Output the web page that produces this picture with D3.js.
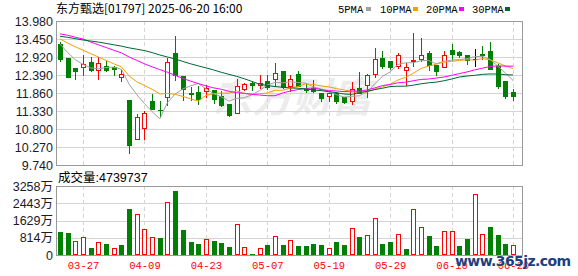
<!DOCTYPE html>
<html>
<head>
<meta charset="utf-8">
<title>东方甄选 K线</title>
<script src="https://d3js.org/d3.v7.min.js"></script>
<style>
  body { margin: 0; background: #fff; }
  svg { display: block; }
</style>
</head>
<body>
<script>
// ---- data ----
var dates = ["03-24","03-25","03-26","03-27","03-28","03-31","04-01","04-02","04-03","04-07",
             "04-08","04-09","04-10","04-11","04-14","04-15","04-16","04-17","04-22","04-23",
             "04-24","04-25","04-28","04-29","04-30","05-02","05-06","05-07","05-08","05-09",
             "05-12","05-13","05-14","05-15","05-16","05-19","05-20","05-21","05-22","05-23",
             "05-26","05-27","05-28","05-29","05-30","06-02","06-03","06-04","06-05","06-06",
             "06-09","06-10","06-11","06-12","06-13","06-16","06-17","06-18","06-19","06-20"];
var open  = [13.30,12.89,12.60,12.62,12.77,12.55,12.65,12.62,12.32,11.65,
             10.50,10.82,11.63,11.37,11.75,13.04,12.37,11.86,11.89,11.91,
             11.94,11.76,11.54,11.26,11.99,12.16,12.11,12.22,12.28,12.50,
             12.07,12.42,11.99,12.01,11.86,11.76,11.86,11.73,11.62,12.01,
             12.10,12.42,12.89,12.79,12.66,12.53,12.80,12.87,13.04,12.69,
             12.62,13.12,13.07,12.97,12.85,13.02,13.10,12.65,12.22,11.89];
var high  = [13.36,12.90,12.61,12.98,12.91,12.91,12.81,12.65,12.55,11.65,
             11.25,11.34,11.83,11.62,12.89,13.53,12.37,12.03,12.06,12.10,
             11.96,11.93,11.54,12.27,12.16,12.20,12.38,12.40,12.74,12.50,
             12.38,12.50,12.12,12.25,11.86,11.86,11.89,11.75,12.18,12.48,
             12.42,13.19,13.09,12.79,13.04,12.74,13.63,13.48,13.11,12.69,
             13.11,13.30,13.11,12.97,13.16,13.24,13.36,12.72,12.22,11.99];
var low   = [12.81,12.33,12.27,12.40,12.50,12.27,12.50,12.40,12.22,10.10,
             10.50,10.52,11.40,11.16,11.52,12.25,11.66,11.66,11.54,11.74,
             11.57,11.47,11.18,11.26,11.94,11.96,12.01,11.99,12.06,12.01,
             11.93,12.06,11.89,11.89,11.62,11.63,11.57,11.57,11.55,11.85,
             11.73,12.32,12.60,12.58,12.60,12.10,12.65,12.81,12.55,12.38,
             12.62,12.82,12.91,12.72,12.65,12.86,12.58,12.01,11.71,11.66];
var close = [12.87,12.34,12.52,12.71,12.53,12.74,12.55,12.57,12.42,10.34,
             11.15,11.26,11.40,11.35,12.76,12.40,11.99,11.84,11.69,12.01,
             11.67,11.52,11.22,12.07,12.12,12.11,12.14,12.05,12.45,12.03,
             12.28,12.06,11.94,11.91,11.71,11.86,11.63,11.59,11.99,11.85,
             12.38,12.86,12.66,12.63,12.99,12.62,12.83,12.97,12.68,12.52,
             12.97,13.02,12.99,12.84,12.85,12.99,12.58,12.06,11.76,11.78];
// volume in 万
var volume = [1086,1038,661,835,330,598,519,330,472,2171,
              1935,1211,835,802,2486,3020,1180,614,519,740,
              661,566,378,1447,362,47,315,472,881,472,
              692,425,425,519,472,315,614,472,1258,850,
              928,1730,519,614,975,283,2155,1305,897,425,
              1117,1117,425,755,2863,975,1322,944,519,474];
var ma5  = [13.30,13.05,12.84,12.70,12.60,12.57,12.61,12.62,12.56,12.12,
            11.81,11.55,11.31,11.10,11.58,11.83,11.98,12.07,12.14,11.99,
            11.84,11.75,11.62,11.70,11.72,11.81,11.93,12.10,12.17,12.16,
            12.19,12.17,12.15,12.04,11.98,11.90,11.81,11.74,11.76,11.78,
            11.89,12.13,12.35,12.48,12.70,12.75,12.75,12.81,12.82,12.72,
            12.79,12.83,12.84,12.87,12.93,12.94,12.85,12.66,12.45,12.23];
var ma10 = [13.45,13.33,13.22,13.12,13.02,12.92,12.82,12.72,12.63,12.36,
            12.19,12.08,11.97,11.83,11.85,11.82,11.76,11.69,11.62,11.79,
            11.84,11.86,11.85,11.92,11.85,11.82,11.84,11.86,11.94,11.94,
            12.00,12.05,12.13,12.11,12.07,12.04,11.99,11.95,11.90,11.88,
            11.89,11.97,12.04,12.12,12.24,12.32,12.44,12.58,12.65,12.71,
            12.77,12.79,12.82,12.84,12.83,12.87,12.84,12.75,12.66,12.58];
var ma20 = [13.60,13.56,13.50,13.45,13.36,13.28,13.20,13.12,13.04,12.92,
            12.82,12.72,12.63,12.55,12.47,12.38,12.29,12.21,12.14,12.07,
            12.01,11.97,11.91,11.87,11.85,11.82,11.80,11.78,11.78,11.86,
            11.92,11.96,11.99,12.01,11.96,11.93,11.92,11.90,11.92,11.91,
            11.95,12.01,12.08,12.11,12.16,12.18,12.22,12.26,12.27,12.30,
            12.33,12.38,12.43,12.48,12.54,12.59,12.64,12.66,12.65,12.65];
var ma30 = [13.53,13.50,13.46,13.42,13.39,13.36,13.32,13.28,13.24,13.19,
            13.15,13.11,13.05,12.98,12.92,12.86,12.79,12.72,12.66,12.60,
            12.54,12.47,12.41,12.35,12.28,12.20,12.12,12.08,12.05,12.03,
            12.01,12.00,11.98,11.95,11.93,11.90,11.87,11.83,11.82,11.87,
            11.91,11.96,12.00,12.05,12.06,12.06,12.09,12.13,12.16,12.18,
            12.22,12.27,12.33,12.36,12.38,12.41,12.42,12.42,12.40,12.39];
var priceTicks = [13.98,13.45,12.92,12.39,11.86,11.33,10.80,10.27,9.74];
var volTicks = [0,814,1629,2443,3258];
var dateTicks = ["03-27","04-09","04-23","05-07","05-19","05-29","06-10","06-20"];
var legendNames = ["5PMA","10PMA","20PMA","30PMA"];
var title = "东方甄选[01797] 2025-06-20 16:00";
var lastVolume = "4739737";

// ---- layout ----
var W = 578, H = 276;
var L = 56, R = 522, T = 21, B = 165;
var VT = 186, VB = 255;
var RED = "#ff0000", GREEN = "#008000";
var maColors = ["#a0a0a0", "#f5a000", "#ff00ff", "#006633"];

var svg = d3.select("body").append("svg").attr("width", W).attr("height", H);

var x = d3.scalePoint().domain(dates).range([60, 513]);
var y = d3.scaleLinear().domain([9.74, 13.98]).range([B, T]);
var yv = d3.scaleLinear().domain([0, 3258]).range([VB, VT]);

function px(v) { return Math.round(v) + 0.5; }
function cx(d) { return Math.round(x(d)); }

// watermark
svg.append("text")
  .attr("x", 212).attr("y", 112)
  .attr("font-family", "Noto Sans CJK SC").attr("font-weight", "bold")
  .attr("font-size", 40).attr("font-style", "italic")
  .attr("fill", "#ececec")
  .text("东方财富");

// grid
var grid = svg.append("g").attr("stroke", "#d4d4d4").attr("shape-rendering", "crispEdges");
grid.selectAll("line.h").data(priceTicks.slice(1, -1)).enter().append("line")
  .attr("x1", L).attr("x2", R).attr("y1", function(d) { return px(y(d)); }).attr("y2", function(d) { return px(y(d)); });
grid.selectAll("line.hv").data(volTicks.slice(1, -1)).enter().append("line")
  .attr("x1", L).attr("x2", R).attr("y1", function(d) { return px(yv(d)); }).attr("y2", function(d) { return px(yv(d)); });
[[T, B], [VT, VB]].forEach(function(span) {
  grid.append("g").selectAll("line").data(dateTicks).enter().append("line")
    .attr("x1", function(d) { return cx(d) + 0.5; }).attr("x2", function(d) { return cx(d) + 0.5; })
    .attr("y1", span[0]).attr("y2", span[1])
    .attr("stroke-dasharray", "4,3");
});

// frames
[[T, B], [VT, VB]].forEach(function(span) {
  svg.append("rect")
    .attr("x", L + 0.5).attr("y", span[0] + 0.5)
    .attr("width", R - L).attr("height", span[1] - span[0])
    .attr("fill", "none").attr("stroke", "#999").attr("shape-rendering", "crispEdges");
});

// candles
var candles = svg.append("g").attr("shape-rendering", "crispEdges");
dates.forEach(function(d, i) {
  var c = cx(d), o = open[i], cl = close[i];
  var col = cl > o ? RED : (cl < o ? GREEN : "#000");
  candles.append("line")
    .attr("x1", c + 0.5).attr("x2", c + 0.5)
    .attr("y1", Math.round(y(high[i]))).attr("y2", Math.round(y(low[i])) + 1)
    .attr("stroke", col);
  var top = Math.round(y(Math.max(o, cl))), bot = Math.round(y(Math.min(o, cl)));
  if (cl > o) {
    candles.append("rect")
      .attr("x", c - 2 + 0.5).attr("y", top + 0.5)
      .attr("width", 4).attr("height", Math.max(1, bot - top))
      .attr("fill", "#fff").attr("stroke", RED);
  } else if (cl < o) {
    candles.append("rect")
      .attr("x", c - 2).attr("y", top)
      .attr("width", 5).attr("height", Math.max(1, bot - top + 1))
      .attr("fill", GREEN);
  } else {
    candles.append("line")
      .attr("x1", c - 2).attr("x2", c + 3)
      .attr("y1", top + 0.5).attr("y2", top + 0.5)
      .attr("stroke", "#000");
  }
});

// moving averages
var mas = [ma5, ma10, ma20, ma30];
var line = d3.line().x(function(d, i) { return x(dates[i]); }).y(function(d) { return y(d); });
mas.forEach(function(m, k) {
  svg.append("path").datum(m)
    .attr("d", line)
    .attr("fill", "none")
    .attr("stroke", maColors[k])
    .attr("stroke-width", 1);
});

// volume bars (colour by change vs previous close)
var vbars = svg.append("g").attr("shape-rendering", "crispEdges");
dates.forEach(function(d, i) {
  var c = cx(d);
  var up = i === 0 ? close[i] > open[i] : close[i] > close[i - 1];
  var top = Math.round(yv(volume[i]));
  if (up) {
    vbars.append("rect")
      .attr("x", c - 2 + 0.5).attr("y", top + 0.5)
      .attr("width", 4).attr("height", Math.max(1, VB - top - 1))
      .attr("fill", "#fff").attr("stroke", RED);
  } else {
    vbars.append("rect")
      .attr("x", c - 2).attr("y", top)
      .attr("width", 5).attr("height", Math.max(1, VB - top))
      .attr("fill", GREEN);
  }
});

// axes
var yAxis = svg.append("g")
  .attr("transform", "translate(" + (L - 1) + ",0)")
  .call(d3.axisLeft(y).tickValues(priceTicks).tickFormat(d3.format(".3f")).tickSize(0).tickPadding(2));
var vAxis = svg.append("g")
  .attr("transform", "translate(" + (L - 1) + ",0)")
  .call(d3.axisLeft(yv).tickValues(volTicks)
    .tickFormat(function(d) { return d === 0 ? "0" : d + "万"; }).tickSize(0).tickPadding(2));
[yAxis, vAxis].forEach(function(g) {
  g.select(".domain").remove();
  g.selectAll("text")
    .attr("font-family", "Liberation Sans, Noto Sans CJK SC, sans-serif")
    .attr("font-size", 12.5).attr("fill", "#1a1a2a");
});
var xAxis = svg.append("g")
  .attr("transform", "translate(0," + (VB + 5) + ")")
  .call(d3.axisBottom(x).tickValues(dateTicks).tickSize(0).tickPadding(2));
xAxis.select(".domain").remove();
xAxis.selectAll("text")
  .attr("font-family", "Liberation Mono, monospace")
  .attr("font-size", 10.5).attr("fill", RED);

// title & labels
svg.append("text")
  .attr("x", 56).attr("y", 13)
  .attr("font-family", "Noto Sans CJK SC, sans-serif")
  .attr("font-size", 12).attr("fill", "#000")
  .text(title);
svg.append("text")
  .attr("x", 58).attr("y", 182)
  .attr("font-family", "Liberation Sans, Noto Sans CJK SC, sans-serif")
  .attr("font-size", 12.5).attr("fill", "#000")
  .text("成交量:" + lastVolume);

// legend
var legendX = [338, 380, 426, 472];
var swatchX = [366, 413, 459, 505];
legendNames.forEach(function(n, k) {
  svg.append("text")
    .attr("x", legendX[k]).attr("y", 12.5)
    .attr("font-family", "Liberation Mono, monospace")
    .attr("font-size", 10.5).attr("fill", "#000")
    .text(n);
  svg.append("rect")
    .attr("x", swatchX[k]).attr("y", 7)
    .attr("width", 5).attr("height", 4)
    .attr("fill", maColors[k]);
});

// site watermark
svg.append("text")
  .attr("x", 455).attr("y", 266)
  .attr("font-family", "DejaVu Sans, sans-serif").attr("font-weight", "bold")
  .attr("font-size", 14).attr("textLength", 116)
  .attr("fill", "#1d3f7e").attr("stroke", "#fff").attr("stroke-width", 0.6)
  .attr("paint-order", "stroke")
  .text("www.365jz.com");
</script>
</body>
</html>
